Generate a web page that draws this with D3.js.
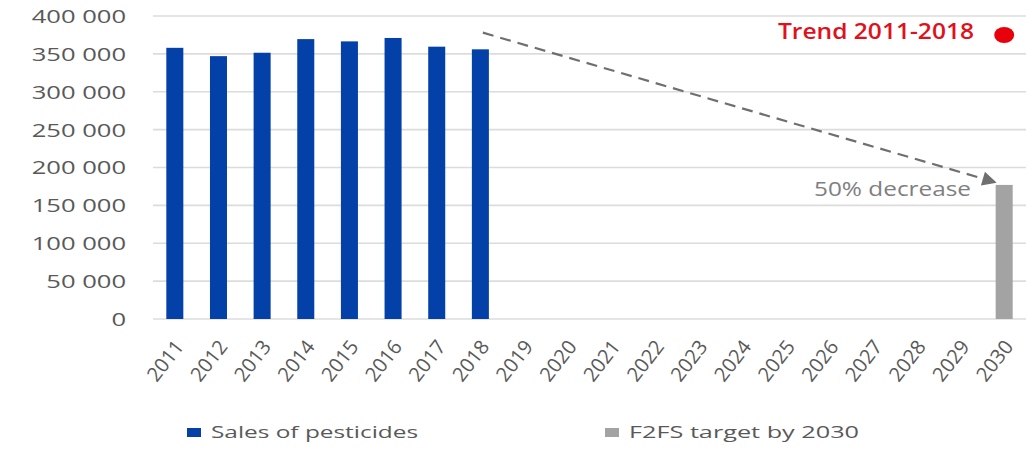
<!DOCTYPE html>
<html>
<head>
<meta charset="utf-8">
<script src="https://cdn.jsdelivr.net/npm/d3@7"></script>
<style>
  html, body { margin: 0; padding: 0; background: #fff; }
  svg { display: block; }
  svg text { font-family: "Open Sans", "Liberation Sans", sans-serif; }
</style>
</head>
<body>
<svg id="chart" width="1026" height="454"></svg>
<script>
// Pesticide sales 2011-2018 and the Farm to Fork target for 2030
const years = d3.range(2011, 2031).map(String);
const salesYears = ["2011", "2012", "2013", "2014", "2015", "2016", "2017", "2018"];
const salesValues = [358000, 347000, 351500, 369500, 366500, 371000, 359500, 356000];
const targetYears = ["2030"];
const targetValues = [177000];
const yTicks = [0, 50000, 100000, 150000, 200000, 250000, 300000, 350000, 400000];
const trendStart = ["2018", 378000];
const trendEnd = ["2030", 180000];
const seriesNames = ["Sales of pesticides", "F2FS target by 2030"];

const blue = "#0341a8", grey = "#a3a3a3", axisText = "#595959";

const svg = d3.select("#chart");
const x = d3.scaleBand().domain(years).range([153, 1026]).paddingInner(0.61).paddingOuter(0.305);
const y = d3.scaleLinear().domain([0, 400000]).range([319, 16]);

const fmt = v => d3.format(",")(v).replace(/,/g, " ");

// stretch text horizontally by a factor of its natural length
function widen(sel, k) {
  sel.each(function () {
    const len = this.getComputedTextLength();
    d3.select(this).attr("textLength", len * k).attr("lengthAdjust", "spacingAndGlyphs");
  });
}
// fit text to an exact width
function fitTo(sel, w) {
  sel.attr("textLength", w).attr("lengthAdjust", "spacingAndGlyphs");
}

// horizontal gridlines
svg.append("g")
  .selectAll("line")
  .data(yTicks)
  .join("line")
  .attr("x1", 153).attr("x2", 1026)
  .attr("y1", d => y(d)).attr("y2", d => y(d))
  .attr("stroke", "#dcdcdc").attr("stroke-width", 1.6);

// y axis labels
const yAxis = svg.append("g")
  .attr("transform", "translate(126,0)")
  .call(d3.axisLeft(y).tickValues(yTicks).tickFormat(fmt).tickSize(0).tickPadding(0));
yAxis.attr("font-family", null).attr("font-size", null);
yAxis.select(".domain").remove();
yAxis.selectAll("text")
  .attr("fill", axisText).attr("font-size", 18).attr("dy", "0.36em")
  .call(widen, 1.42);

// x axis labels, rotated
const xAxis = svg.append("g")
  .attr("transform", "translate(0,319)")
  .call(d3.axisBottom(x).tickSize(0).tickPadding(0));
xAxis.attr("font-family", null).attr("font-size", null);
xAxis.select(".domain").remove();
xAxis.selectAll("text")
  .attr("fill", axisText).attr("font-size", 20)
  .attr("text-anchor", "end")
  .attr("dy", 0)
  .attr("transform", "translate(10,28) rotate(-52)");

// sales bars
svg.append("g")
  .selectAll("rect")
  .data(salesYears.map((yr, i) => ({ yr, v: salesValues[i] })))
  .join("rect")
  .attr("x", d => x(d.yr)).attr("width", x.bandwidth())
  .attr("y", d => y(d.v)).attr("height", d => y(0) - y(d.v))
  .attr("fill", blue);

// target bar
svg.append("g")
  .selectAll("rect")
  .data(targetYears.map((yr, i) => ({ yr, v: targetValues[i] })))
  .join("rect")
  .attr("x", d => x(d.yr)).attr("width", x.bandwidth())
  .attr("y", d => y(d.v)).attr("height", d => y(0) - y(d.v))
  .attr("fill", grey);

// dashed trend arrow
svg.append("defs").append("marker")
  .attr("id", "head").attr("viewBox", "0 0 10 10")
  .attr("refX", 10).attr("refY", 5)
  .attr("markerWidth", 8).attr("markerHeight", 6.5)
  .attr("markerUnits", "strokeWidth")
  .attr("orient", "auto")
  .append("path").attr("d", "M0,0 L10,5 L0,10 Z").attr("fill", "#6f6f6f");

svg.append("line")
  .attr("x1", x(trendStart[0]) + x.bandwidth() - 6).attr("y1", y(trendStart[1]))
  .attr("x2", x(trendEnd[0]) + 1).attr("y2", y(trendEnd[1]))
  .attr("stroke", "#6f6f6f").attr("stroke-width", 2.2)
  .attr("stroke-dasharray", "11,7")
  .attr("marker-end", "url(#head)");

// trend label and red marker
svg.append("text")
  .attr("x", 974).attr("y", 39)
  .attr("text-anchor", "end")
  .attr("fill", "#e0111b").attr("font-size", 21).attr("font-weight", 600)
  .text("Trend 2011-2018")
  .call(fitTo, 196);
svg.append("ellipse")
  .attr("cx", x("2030") + x.bandwidth() / 2).attr("cy", 35)
  .attr("rx", 10).attr("ry", 8)
  .attr("fill", "#e8000b");

// decrease label
svg.append("text")
  .attr("x", 971).attr("y", 196)
  .attr("text-anchor", "end")
  .attr("fill", "#7f7f7f").attr("font-size", 20)
  .text("50% decrease")
  .call(fitTo, 157);

// legend
const legend = svg.append("g");
const legendX = [187, 605];
const legendWidths = [207, 230];
const legendColors = [blue, grey];
seriesNames.forEach((name, i) => {
  legend.append("rect")
    .attr("x", legendX[i]).attr("y", 428)
    .attr("width", 14).attr("height", 9)
    .attr("fill", legendColors[i]);
  legend.append("text")
    .attr("x", legendX[i] + 24).attr("y", 438)
    .attr("fill", axisText).attr("font-size", 16)
    .text(name)
    .call(fitTo, legendWidths[i]);
});
</script>
</body>
</html>
